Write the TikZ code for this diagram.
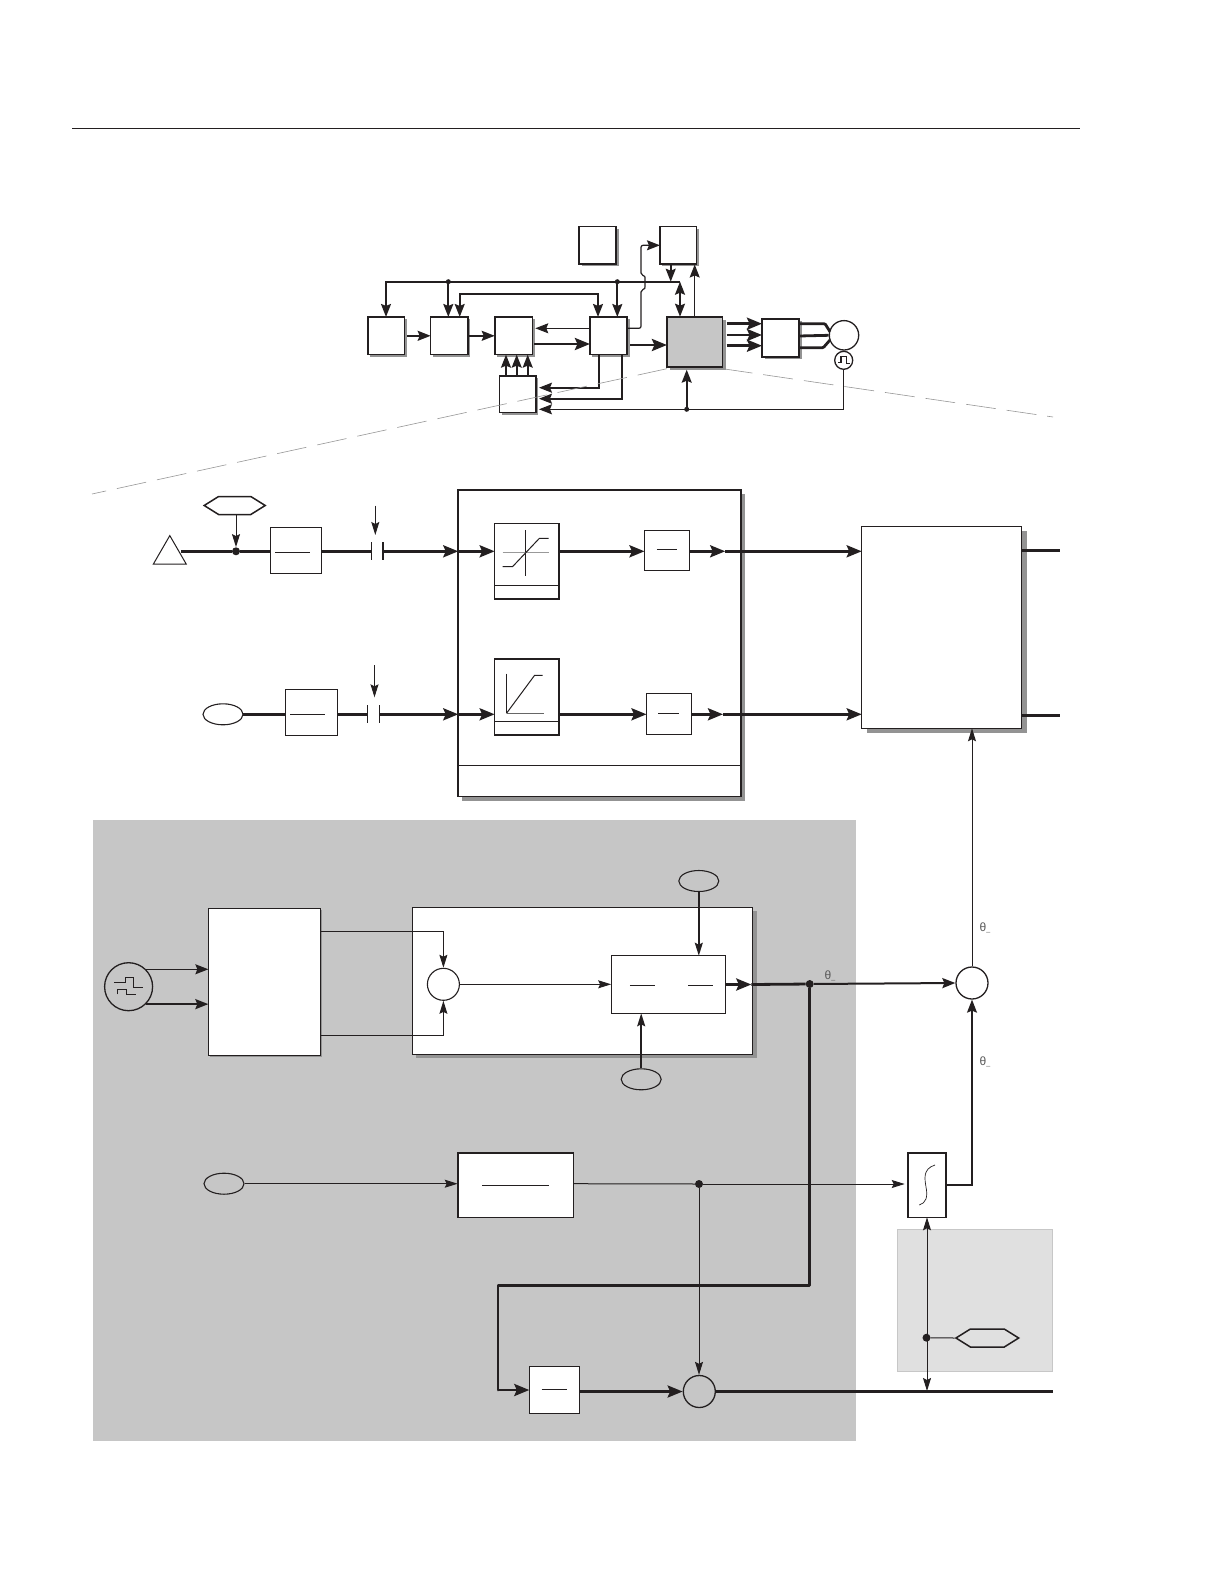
\documentclass[tikz,border=0pt]{standalone}
\usepackage{fontspec}
\setmainfont{Liberation Sans}
\usetikzlibrary{arrows.meta,shapes.geometric,shapes.symbols,shadows}
\definecolor{inkcol}{RGB}{35,31,32}
\definecolor{shadecol}{RGB}{147,147,147}
\definecolor{panelcol}{RGB}{198,198,198}
\definecolor{palecol}{RGB}{224,224,224}
\definecolor{dashcol}{RGB}{150,150,150}

\begin{document}
\begin{tikzpicture}[x=1pt,y=-1pt,
  color=inkcol,
  blk/.style={draw=inkcol,line width=1.6pt,fill=white,inner sep=0pt,outer sep=0pt},
  shad/.style={drop shadow={shadow xshift=#1,shadow yshift=-#1,fill=shadecol,opacity=1}},
  oval/.style={ellipse,draw=inkcol,line width=1.1pt,minimum width=40pt,minimum height=21pt,inner sep=0pt},
  hexa/.style={signal,signal to=west and east,signal pointer angle=64,draw=inkcol,line width=1.5pt,inner sep=0pt,minimum width=61pt,minimum height=18pt},
  ring/.style={circle,draw=inkcol,line width=1.3pt,inner sep=0pt,minimum size=32pt},
  dot/.style={circle,fill=inkcol,inner sep=0pt,minimum size=8pt},
  smalldot/.style={circle,fill=inkcol,inner sep=0pt,minimum size=5pt},
  thinarr/.style={-{Stealth[length=13pt,width=8pt,inset=2pt]},line width=1pt},
  thinboth/.style={{Stealth[length=13pt,width=8pt,inset=2pt]}-{Stealth[length=13pt,width=8pt,inset=2pt]},line width=1pt},
  medarr/.style={-{Stealth[length=13pt,width=10pt,inset=2pt]},line width=1.8pt},
  medboth/.style={{Stealth[length=13pt,width=10pt,inset=2pt]}-{Stealth[length=13pt,width=10pt,inset=2pt]},line width=1.8pt},
  bigarr/.style={-{Stealth[length=15pt,width=12pt,inset=2.5pt]},line width=2.8pt},
  heavy/.style={line width=2.8pt},
  plain/.style={line width=1pt},
  theta/.style={text=black!65,font=\fontsize{12}{12}\selectfont,inner sep=0pt}
]
\useasboundingbox (0,0) rectangle (1224,1584);

% Panels
\node[fill=panelcol,minimum width=762.5pt,minimum height=621pt,inner sep=0pt] (panel) at (474.3,1130.5) {};
\node[fill=palecol,draw=black!22,line width=1pt,minimum width=155.4pt,minimum height=142.3pt,inner sep=0pt] (pale) at (975,1300.8) {};

% Head rule
\coordinate (rulea) at (72,128.5);
\coordinate (ruleb) at (1080,128.5);
\draw[line width=1.9pt] (rulea) -- (ruleb);

% Overview blocks
\node[blk,shad=2.5pt,minimum width=36.6pt,minimum height=37.7pt] (boxa) at (386,335.8) {};
\node[blk,shad=2.5pt,minimum width=37.3pt,minimum height=37.7pt] (boxb) at (449.3,335.8) {};
\node[blk,shad=2.5pt,minimum width=37.6pt,minimum height=37.7pt] (boxc) at (513.5,335.8) {};
\node[blk,shad=2.5pt,minimum width=37.3pt,minimum height=37.7pt] (boxd) at (608.6,335.8) {};
\node[blk,shad=2.5pt,minimum width=37pt,minimum height=37.3pt] (boxtl) at (597.5,245.3) {};
\node[blk,shad=2.5pt,minimum width=36.7pt,minimum height=37.3pt] (boxtr) at (678.3,245.3) {};
\node[blk,shad=3pt,fill=panelcol,minimum width=55.7pt,minimum height=50pt] (boxgrey) at (694.8,341.7) {};
\node[blk,shad=2.5pt,minimum width=37pt,minimum height=38pt] (boxinv) at (780.5,337.7) {};
\node[blk,shad=2pt,minimum width=36.3pt,minimum height=36.7pt] (boxfb) at (517.8,394.3) {};
\node[ring,minimum size=29.4pt,fill=white] (motor) at (844,335.3) {};
\node[ring,minimum size=18pt,fill=white] (enc) at (843.7,360.3) {};
\draw[line width=1.6pt] (838,362.5) -- (841,362.5) -- (841,356.5) -- (846.5,356.5) -- (846.5,363.5) -- (849.5,363.5);

% Overview bus
\coordinate (busend) at (680,281.7);
\coordinate (loopa) at (459.7,294);
\coordinate (loopb) at (598,294);
\coordinate (fbtop) at (599,387.7);
\coordinate (fbmid) at (622,398.7);
\node[smalldot] (busa) at (448.3,281.7) {};
\node[smalldot] (busb) at (617.3,281.7) {};
\node[smalldot] (fbdot) at (686.7,409.3) {};
\draw[medarr] (busend) -| (boxa.north);
\draw[medarr] (busa) -- (busa |- boxb.north);
\draw[medarr] (busb) -- (busb |- boxd.north);
\draw[medboth] (loopa |- boxb.north) -- (loopa) -- (loopb) -- (loopb |- boxd.north);
\draw[medarr] (boxtr.south -| 670.7,0) -- (670.7,281.7);
\draw[medboth] (busend) -- (busend |- boxgrey.north);
\draw[medarr,line width=1.3pt] (boxgrey.north -| 694.7,0) -- (694.7,264.5);
\draw[medarr,line width=1.2pt,rounded corners=2pt] (boxd.east |- 0,328.3) -- (641,328.3) -- (641,290) .. controls (645,289) .. (645,282) .. controls (645,276) .. (641,275) -- (641,245.3) -- (boxtr.west);

% Overview flow
\draw[medarr] ([xshift=3pt]boxa.east) -- (boxb.west);
\draw[medarr] (boxb.east) -- (boxc.west);
\draw[medarr,line width=1pt,shorten >=3pt] (boxd.west |- 0,328.3) -- (boxc.east |- 0,328.3);
\draw[bigarr] ([xshift=2pt]boxc.east |- 0,344) -- (boxd.west |- 0,344);
\draw[bigarr] ([xshift=3pt]boxd.east |- 0,345) -- (boxgrey.west |- 0,345);
\foreach \yy in {323.7,335,345.7}
  \draw[bigarr] ([xshift=4pt]boxgrey.east |- 0,\yy) -- (boxinv.west |- 0,\yy);
\draw[heavy,rounded corners=1pt] (boxinv.east |- 0,323.7) -- (825,323.7) -- (830,331.7);
\draw[heavy] (boxinv.east |- 0,336) -- (motor.west);
\draw[heavy,rounded corners=1pt] (boxinv.east |- 0,347.7) -- (823.3,347.7) -- (830,340);

% Overview feedback
\foreach \xx in {506,516.7,527.7}
  \draw[medarr] (boxfb.north -| \xx,0) -- (boxc.south -| \xx,0);
\draw[medarr,shorten >=3pt] (fbtop |- boxd.south) -- (fbtop) -- (boxfb.east |- fbtop);
\draw[medarr,shorten >=3pt] (fbmid |- boxd.south) -- (fbmid) -- (boxfb.east |- fbmid);
\draw[medarr,line width=1.2pt,shorten >=3pt] (enc.south) |- (boxfb.east |- fbdot);
\draw[medarr,shorten >=3pt] (fbdot) -- (fbdot |- boxgrey.south);

% Zoom lines
\coordinate (zoomleft) at (92,494);
\coordinate (zoomright) at (1053,417);
\draw[dashcol,line width=0.6pt,dash pattern=on 30pt off 11pt] (boxgrey.south west) ++(0,2) -- (zoomleft);
\draw[dashcol,line width=0.6pt,dash pattern=on 30pt off 11pt] (boxgrey.south east) ++(0,2) -- (zoomright);

% Input rows
\coordinate (rowa) at (0,551.3);
\coordinate (rowb) at (0,714.3);
\coordinate (capal) at (371,551.3);
\coordinate (capar) at (382.8,551.3);
\coordinate (capbl) at (367.4,714.3);
\coordinate (capbr) at (379.2,714.3);
\coordinate (midna) at (725.2,551.3);
\coordinate (midnb) at (723,714.3);
\coordinate (cmda) at (375.3,505.7);
\coordinate (cmdb) at (374.5,665);
\node[regular polygon,regular polygon sides=3,draw=inkcol,line width=1pt,inner sep=0pt,minimum size=38pt] (refin) at (169.8,554.6) {};
\node[hexa] (hexin) at (234.7,505.5) {};
\node[dot] (rowdot) at (236,551.3) {};
\node[oval] (ovalb) at (223,714.3) {};
\node[blk,line width=1.1pt,minimum width=51pt,minimum height=46pt] (fila) at (296,550.3) {};
\node[blk,line width=1.1pt,minimum width=51.8pt,minimum height=45.6pt] (filb) at (311.4,712.5) {};
\draw[plain] (275.2,552.3) -- (309.6,552.3);
\draw[plain] (290.3,714.3) -- (325,714.3);

% Limiter frame
\node[blk,shad=4pt,minimum width=282.7pt,minimum height=306.7pt] (frame) at (599.6,643.3) {};
\draw[plain] (frame.west |- 0,765.3) -- (frame.east |- 0,765.3);
\node[blk,minimum width=64.3pt,minimum height=75.4pt] (limita) at (526.8,561) {};
\node[blk,minimum width=64.3pt,minimum height=75.7pt] (limitb) at (526.8,697.1) {};
\node[blk,line width=1.1pt,minimum width=45pt,minimum height=40pt] (gaina) at (667,550.7) {};
\node[blk,line width=1.1pt,minimum width=45pt,minimum height=40.7pt] (gainb) at (669,713.7) {};
\draw[plain] (limita.west |- 0,585.3) -- (limita.east |- 0,585.3);
\draw[plain] (limitb.west |- 0,721.3) -- (limitb.east |- 0,721.3);
\draw[plain] (525.5,530) -- (525.5,575.7);
\draw[line width=1.2pt,black!40] (502.6,552.7) -- (548.5,552.7);
\draw[plain] (502.6,566.7) -- (512.5,566.7) -- (539.4,538.3) -- (548.5,538.3);
\draw[plain] (506.5,673.7) -- (506.5,713.3);
\draw[line width=0.9pt,black!60] (506.5,713.3) -- (544,713.3);
\draw[plain] (506.5,713.3) -- (534.6,675.3) -- (542.5,675.3);
\draw[plain] (656.8,549.3) -- (677.4,549.3);
\draw[plain] (658.4,713.3) -- (679.3,713.3);

% Output block
\node[blk,line width=1.4pt,shad=5pt,minimum width=160pt,minimum height=202pt] (output) at (941.7,627.3) {};
\coordinate (outa) at (1060,550.3);
\coordinate (outb) at (1060,715.3);

% Row connectors
\draw[thinarr] (hexin.south -| rowdot) -- (rowdot);
\draw[heavy] (refin.east |- rowa) -- (rowdot) -- (fila.west |- rowa);
\draw[heavy] (fila.east |- rowa) -- (capal);
\draw[thinarr] (cmda) -- (cmda |- 0,535);
\draw[plain] (capal) ++(0,-9) -- ++(0,18);
\draw[line width=1.7pt] (capar) ++(0,-9) -- ++(0,18);
\draw[bigarr] (capar) -- (frame.west |- rowa);
\draw[bigarr] (frame.west |- rowa) -- (limita.west |- rowa);
\draw[bigarr] (limita.east |- rowa) -- (gaina.west |- rowa);
\draw[bigarr] (gaina.east |- rowa) -- (midna);
\draw[bigarr] (midna) -- (output.west |- rowa);
\draw[heavy] (output.east |- outa) -- (outa);
\draw[heavy] (ovalb) ++(20,0) -- (filb.west |- rowb);
\draw[heavy] (filb.east |- rowb) -- (capbl);
\draw[thinarr] (cmdb) -- (cmdb |- 0,697.3);
\draw[plain] (capbl) ++(0,-9) -- ++(0,18);
\draw[line width=1.2pt] (capbr) ++(0,-9) -- ++(0,18);
\draw[bigarr] (capbr) -- (frame.west |- rowb);
\draw[bigarr] (frame.west |- rowb) -- (limitb.west |- rowb);
\draw[bigarr] (limitb.east |- rowb) -- (gainb.west |- rowb);
\draw[bigarr] (gainb.east |- rowb) -- (midnb);
\draw[bigarr] (midnb) -- (output.west |- rowb);
\draw[heavy] (output.east |- outb) -- (outb);

% Encoder and position
\node[ring,minimum size=48pt] (pulse) at (128.6,986.7) {};
\draw[plain] (113.9,982.7) -- (125.6,982.7) -- (125.6,977.3) -- (133.4,977.3) -- (133.4,987.3) -- (142.9,987.3);
\draw[plain] (117.3,994.3) -- (117.3,989.3) -- (126.4,989.3) -- (126.4,994.3) -- (136.4,994.3);
\node[blk,line width=1.2pt,shad=1.5pt,minimum width=112.3pt,minimum height=146.6pt] (decode) at (264.5,982) {};
\node[blk,line width=1.1pt,shad=4pt,minimum width=340.4pt,minimum height=147pt] (calc) at (582.4,980.8) {};
\node[ring,fill=white,line width=1.1pt] (sum) at (443.4,984.3) {};
\node[blk,line width=1.3pt,minimum width=114.5pt,minimum height=57.6pt] (ratio) at (668.4,984.5) {};
\draw[plain] (629.9,985.3) -- (655,985.3);
\draw[plain] (688,985.3) -- (713.2,985.3);
\node[oval] (ovalt) at (698.8,881) {};
\node[oval] (ovald) at (641.2,1079.3) {};
\node[dot] (dotc) at (809.7,984) {};
\coordinate (midc) at (751.3,984.5);

\draw[medarr,line width=1.2pt] (pulse.45) -- (decode.west |- pulse.45);
\draw[medarr,line width=2pt] (pulse.-45) -- (decode.west |- pulse.-45);
\draw[thinarr] (decode.east |- 0,931.3) -| (sum.north);
\draw[thinarr] (decode.east |- 0,1035.3) -| (sum.south);
\draw[thinarr] (sum.east) -- (ratio.west |- sum);
\draw[thinarr,line width=1.6pt] (ovalt.south) -- (ovalt.south |- ratio.north);
\draw[thinarr,line width=1.6pt] (ovald.north) -- (ovald.north |- ratio.south);
\draw[bigarr] (ratio.east) -- (midc);
\draw[heavy] (midc) -- (dotc);

% Summing and angle labels
\node[ring] (sumr) at (972,983) {};
\node[theta] (thb) at (830,975.7) {θ{\scriptsize\_}};
\node[theta] (tho) at (985,928.3) {θ{\scriptsize\_}};
\node[theta] (ths) at (985,1061.7) {θ{\scriptsize\_}};
\draw[medarr,line width=2pt] (dotc) -- (sumr.west);
\draw[thinarr] (sumr.north) -- (sumr.north |- output.south);

% Sine lookup
\node[oval] (ovals) at (224,1183.7) {};
\node[blk,minimum width=115.6pt,minimum height=64.6pt] (scale) at (515.5,1185) {};
\draw[plain] (482.3,1185.3) -- (549,1185.3);
\node[blk,minimum width=38pt,minimum height=64.6pt] (sbox) at (926.7,1185) {};
\draw[line width=0.7pt] (935,1165) .. controls (922,1169) and (925,1180) .. (926,1187) .. controls (928,1197) and (926,1203) .. (919.3,1205);
\node[dot] (dotd) at (699,1184) {};
\draw[thinarr] (ovals.east) -- (scale.west |- ovals);
\draw[plain] (scale.east |- ovals) -- (dotd);
\draw[thinarr,shorten >=3pt] (dotd) -- (sbox.west |- dotd);
\draw[medarr,line width=1.2pt] (sbox.east) -| (sumr.south);

% Feedback path
\coordinate (loopc) at (498,1285.7);
\coordinate (botend) at (1052.7,1391.5);
\node[blk,minimum width=50pt,minimum height=46.7pt] (gainc) at (554.3,1390) {};
\draw[plain] (541.7,1389.3) -- (567,1389.3);
\node[ring] (sumb) at (699.3,1391.5) {};
\draw[heavy,line cap=round,line join=round] (dotc) |- (loopc) -- (loopc |- gainc);
\draw[bigarr] (loopc |- gainc) -- (gainc.west);
\draw[bigarr] (gainc.east |- sumb) -- (sumb.west);
\draw[heavy] (sumb.east) -- (botend);
\draw[thinarr] (dotd) -- (dotd |- sumb.north);

% Pale section
\node[hexa,minimum width=62.7pt] (hexs) at (987.3,1338) {};
\node[dot] (dote) at (926.5,1337.7) {};
\draw[plain] (dote) -- (hexs.west);
\draw[thinboth] (sbox.south -| 927,0) -- (927,1391);
\end{tikzpicture}
\end{document}
